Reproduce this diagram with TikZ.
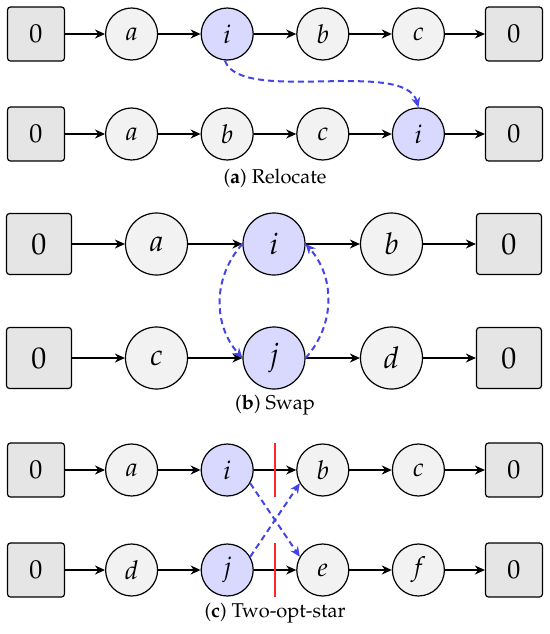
\documentclass[tikz,border=0pt]{standalone}
\usepackage[T1]{fontenc}
\usepackage{mathpazo}
\usetikzlibrary{arrows.meta,calc}
\definecolor{movecol}{RGB}{68,68,232}
\tikzset{
    depot/.style={draw, line width=0.6pt, rounded corners=1.5pt, fill=gray!20,
        minimum width=28.5pt, minimum height=27pt, inner sep=0pt,
        font=\fontsize{13}{15}\selectfont},
    cust/.style={draw, circle, line width=0.6pt, fill=gray!10,
        minimum size=26pt, inner sep=0pt, font=\fontsize{13}{15}\selectfont},
    moved/.style={cust, fill=blue!15},
    big depot/.style={depot, minimum width=32.5pt, minimum height=30.5pt,
        font=\fontsize{15}{17}\selectfont},
    big cust/.style={cust, minimum size=31pt, font=\fontsize{15}{17}\selectfont},
    big moved/.style={big cust, fill=blue!15},
    link/.style={-{Stealth[length=5pt,width=4.5pt]}, line width=0.8pt},
    move/.style={-{Stealth[length=5pt,width=4.5pt]}, line width=1pt,
        dash pattern=on 3pt off 2pt, movecol},
    cut/.style={red!85, line width=0.8pt},
    caption/.style={font=\fontsize{10}{12}\selectfont}
}

\begin{document}
\begin{tikzpicture}[x=0.5pt, y=0.5pt]
    \useasboundingbox (0,0) rectangle (550,-634);

    % (a) relocate
    \foreach \lab/\sty [count=\k from 0] in {0/depot, $a$/cust, $i$/moved, $b$/cust, $c$/cust, 0/depot}
        \node[\sty] (A1-\k) at (36+95.6*\k, -34) {\lab};
    \foreach \lab/\sty [count=\k from 0] in {0/depot, $a$/cust, $b$/cust, $c$/cust, $i$/moved, 0/depot}
        \node[\sty] (A2-\k) at (36+95.6*\k, -134) {\lab};
    \foreach \k [remember=\k as \prev (initially 0)] in {1,...,5} {
        \draw[link] (A1-\prev) -- (A1-\k);
        \draw[link] (A2-\prev) -- (A2-\k);
    }
    \draw[move] (A1-2.-95) .. controls (240,-105) and (405,-58) .. (A2-4.north);
    \node[caption] (capA) at (275,-178) {(\textbf{a}) Relocate};

    % (b) swap
    \foreach \lab/\sty [count=\k from 0] in {0/big depot, $a$/big cust, $i$/big moved, $b$/big cust, 0/big depot}
        \node[\sty] (B1-\k) at (39+117.5*\k, -244) {\lab};
    \foreach \lab/\sty [count=\k from 0] in {0/big depot, $c$/big cust, $j$/big moved, $d$/big cust, 0/big depot}
        \node[\sty] (B2-\k) at (39+117.5*\k, -358) {\lab};
    \foreach \k [remember=\k as \prev (initially 0)] in {1,...,4} {
        \draw[link] (B1-\prev) -- (B1-\k);
        \draw[link] (B2-\prev) -- (B2-\k);
    }
    \draw[move] (B1-2.west) to[out=-132, in=132] (B2-2.west);
    \draw[move] (B2-2.east) to[out=48, in=-48] (B1-2.east);
    \node[caption] (capB) at (275,-405) {(\textbf{b}) Swap};

    % (c) two-opt-star
    \foreach \lab/\sty [count=\k from 0] in {0/depot, $a$/cust, $i$/moved, $b$/cust, $c$/cust, 0/depot}
        \node[\sty] (C1-\k) at (36+95.6*\k, -470) {\lab};
    \foreach \lab/\sty [count=\k from 0] in {0/depot, $d$/cust, $j$/moved, $e$/cust, $f$/cust, 0/depot}
        \node[\sty] (C2-\k) at (36+95.6*\k, -570) {\lab};
    \foreach \k [remember=\k as \prev (initially 0)] in {1,...,5} {
        \draw[link] (C1-\prev) -- (C1-\k);
        \draw[link] (C2-\prev) -- (C2-\k);
    }
    \draw[cut] ($(C1-2)!0.5!(C1-3)+(0,27)$) -- ++(0,-54);
    \draw[cut] ($(C2-2)!0.5!(C2-3)+(0,27)$) -- ++(0,-54);
    \draw[move] (C1-2.-30) -- (C2-3.150);
    \draw[move] (C2-2.30) -- (C1-3.-150);
    \node[caption] (capC) at (275,-613) {(\textbf{c}) Two-opt-star};
\end{tikzpicture}
\end{document}
